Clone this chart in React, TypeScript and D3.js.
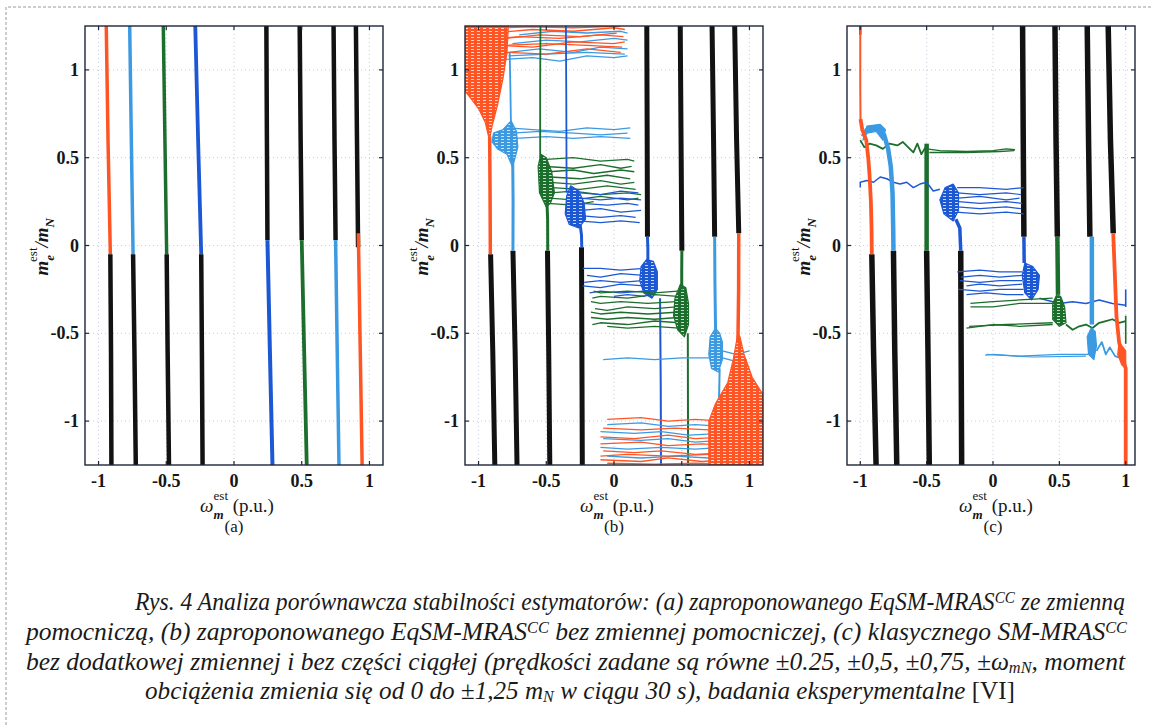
import React from 'react';
import * as d3 from 'd3';

type Pt = [number, number];

// axes
const tickValues = [-1, -0.5, 0, 0.5, 1];
const tickLabels = ['-1', '-0.5', '0', '0.5', '1'];
const yDomain: Pt = [-1.25, 1.25];
const xDomainA: Pt = [-1.1, 1.1];
const xDomainB: Pt = [-1.1, 1.1];
const xDomainC: Pt = [-1.1, 1.07];
const panelLabels = ['(a)', '(b)', '(c)'];

// ---------- (a) ----------
const aRedNeg: Pt[] = [[-0.943, 1.25], [-0.93, 0.6], [-0.913, -0.05]];
const aLBlueNeg: Pt[] = [[-0.77, 1.25], [-0.758, 0.6], [-0.745, -0.05]];
const aGreenNeg: Pt[] = [[-0.522, 1.25], [-0.51, 0.6], [-0.497, -0.05]];
const aBlueNeg: Pt[] = [[-0.286, 1.25], [-0.265, 0.6], [-0.242, -0.05]];
const aBlackNeg: Pt[][] = [
  [[-0.913, -0.05], [-0.908, -0.6], [-0.905, -1.25]],
  [[-0.745, -0.05], [-0.735, -0.6], [-0.725, -1.25]],
  [[-0.497, -0.05], [-0.49, -0.6], [-0.48, -1.25]],
  [[-0.242, -0.05], [-0.237, -0.6], [-0.232, -1.25]],
];
const aBlackPos: Pt[][] = [
  [[0.239, 1.25], [0.243, 0.6], [0.247, 0.03]],
  [[0.485, 1.25], [0.492, 0.6], [0.5, 0.03]],
  [[0.735, 1.25], [0.742, 0.6], [0.75, 0.03]],
  [[0.9, 1.25], [0.908, 0.6], [0.916, -0.01]],
];
const aBluePos: Pt[] = [[0.247, 0.03], [0.265, -0.6], [0.284, -1.25]];
const aGreenPos: Pt[] = [[0.5, 0.03], [0.518, -0.6], [0.537, -1.25]];
const aLBluePos: Pt[] = [[0.75, 0.03], [0.762, -0.6], [0.775, -1.25]];
const aRedPos: Pt[] = [[0.918, 0.07], [0.932, -0.6], [0.946, -1.25]];

// ---------- (b) ----------
const bBlack: Pt[][] = [
  [[-0.911, -0.05], [-0.895, -0.6], [-0.88, -1.25]],
  [[-0.746, -0.03], [-0.73, -0.6], [-0.716, -1.25]],
  [[-0.491, -0.03], [-0.482, -0.6], [-0.474, -1.25]],
  [[-0.24, -0.01], [-0.237, -0.6], [-0.234, -1.25]],
  [[0.242, 1.25], [0.245, 0.6], [0.247, 0.05]],
  [[0.489, 1.25], [0.495, 0.6], [0.501, -0.03]],
  [[0.724, 1.25], [0.735, 0.6], [0.743, 0.05]],
  [[0.891, 1.25], [0.905, 0.6], [0.921, 0.07]],
];
const bRedNegStem: Pt[] = [[-0.913, -0.05], [-0.915, 0.3], [-0.918, 0.62]];
const bRedNegFunnel: Pt[] = [[-0.92, 0.6], [-0.95, 0.7], [-1.0, 0.78], [-1.06, 0.84], [-1.1, 0.88], [-1.1, 1.25], [-0.78, 1.25], [-0.79, 1.1], [-0.82, 0.95], [-0.86, 0.8], [-0.9, 0.68]];
const bRedTop: Pt[][] = [
  [[-1.1, 1.2], [-0.9, 1.21], [-0.6, 1.23], [-0.3, 1.22], [0, 1.24], [0.08, 1.23]],
  [[-1.1, 1.16], [-0.95, 1.17], [-0.7, 1.19], [-0.4, 1.18], [-0.1, 1.2], [0.07, 1.19]],
  [[-1.1, 1.12], [-0.85, 1.14], [-0.6, 1.13], [-0.3, 1.16], [0, 1.15], [0.08, 1.16]],
  [[-1.05, 1.08], [-0.8, 1.1], [-0.5, 1.09], [-0.2, 1.12], [0.05, 1.1]],
  [[-0.85, 1.24], [-0.6, 1.245], [-0.3, 1.24], [0.05, 1.25]],
  [[-0.8, 1.18], [-0.55, 1.2], [-0.25, 1.19], [0.02, 1.21]],
  [[-0.8, 1.14], [-0.5, 1.15], [-0.2, 1.14], [0.06, 1.13]],
];
const bLBlueTop: Pt[][] = [
  [[-0.8, 1.06], [-0.6, 1.07], [-0.4, 1.05], [-0.2, 1.08], [0, 1.07], [0.1, 1.08]],
  [[-0.78, 1.1], [-0.55, 1.12], [-0.3, 1.1], [-0.1, 1.13], [0.1, 1.12]],
  [[-0.75, 1.15], [-0.5, 1.17], [-0.25, 1.16], [0, 1.18], [0.1, 1.17]],
  [[-0.7, 1.2], [-0.45, 1.22], [-0.2, 1.21], [0.05, 1.22], [0.1, 1.21]],
  [[-0.78, 1.08], [-0.5, 1.09], [-0.2, 1.1], [0.08, 1.09]],
];
const bLBlueNegStem: Pt[] = [[-0.746, -0.03], [-0.745, 0.25], [-0.748, 0.5]];
const bLBlueNegBlob: Pt[] = [[-0.75, 0.45], [-0.79, 0.52], [-0.86, 0.55], [-0.9, 0.59], [-0.89, 0.64], [-0.82, 0.66], [-0.76, 0.71], [-0.72, 0.65], [-0.71, 0.56], [-0.73, 0.5]];
const bLBlueNegUp: Pt[] = [[-0.76, 0.65], [-0.765, 0.9], [-0.77, 1.1]];
const bLBlueNegLines: Pt[][] = [
  [[-0.78, 0.67], [-0.6, 0.66], [-0.4, 0.65], [-0.2, 0.67], [0, 0.66], [0.12, 0.67]],
  [[-0.75, 0.64], [-0.55, 0.65], [-0.3, 0.64], [-0.1, 0.63], [0.1, 0.64]],
  [[-0.73, 0.61], [-0.5, 0.62], [-0.3, 0.61], [-0.1, 0.62], [0.12, 0.61]],
];
const bGreenNegStem: Pt[] = [[-0.489, -0.03], [-0.49, 0.15], [-0.495, 0.25]];
const bGreenNegBlob: Pt[] = [[-0.5, 0.22], [-0.55, 0.3], [-0.56, 0.45], [-0.54, 0.52], [-0.5, 0.5], [-0.46, 0.42], [-0.44, 0.3], [-0.47, 0.24]];
const bGreenNegUp: Pt[] = [[-0.545, 0.5], [-0.545, 0.9], [-0.543, 1.25]];
const bGreenNegLines: Pt[][] = [
  [[-0.5, 0.49], [-0.3, 0.5], [-0.1, 0.48], [0.1, 0.49], [0.15, 0.48]],
  [[-0.5, 0.45], [-0.3, 0.44], [-0.1, 0.46], [0.05, 0.44], [0.13, 0.45]],
  [[-0.48, 0.42], [-0.3, 0.43], [-0.15, 0.41], [0.05, 0.43], [0.15, 0.42]],
  [[-0.47, 0.39], [-0.25, 0.38], [-0.05, 0.4], [0.12, 0.38]],
  [[-0.47, 0.36], [-0.3, 0.35], [-0.1, 0.37], [0.05, 0.35], [0.15, 0.36]],
  [[-0.46, 0.33], [-0.25, 0.32], [-0.05, 0.34], [0.16, 0.32]],
  [[-0.47, 0.3], [-0.3, 0.31], [-0.1, 0.29], [0.1, 0.3], [0.2, 0.29]],
  [[-0.48, 0.27], [-0.3, 0.26], [-0.1, 0.28], [0.1, 0.26], [0.18, 0.27]],
  [[-0.49, 0.24], [-0.3, 0.23], [-0.15, 0.25]],
];
const bBlueNegStem: Pt[] = [[-0.238, -0.01], [-0.24, 0.06], [-0.25, 0.12]];
const bBlueNegBlob: Pt[] = [[-0.26, 0.1], [-0.33, 0.12], [-0.36, 0.18], [-0.35, 0.28], [-0.32, 0.34], [-0.26, 0.31], [-0.22, 0.24], [-0.21, 0.15]];
const bBlueNegUp: Pt[] = [[-0.35, 0.3], [-0.352, 0.8], [-0.355, 1.25]];
const bBlueNegLines: Pt[][] = [
  [[-0.25, 0.3], [-0.1, 0.29], [0.05, 0.31], [0.18, 0.3]],
  [[-0.25, 0.27], [-0.1, 0.26], [0.05, 0.27], [0.2, 0.26]],
  [[-0.24, 0.24], [-0.05, 0.23], [0.1, 0.24], [0.18, 0.23]],
  [[-0.24, 0.2], [-0.1, 0.21], [0.05, 0.19], [0.2, 0.2]],
  [[-0.25, 0.17], [-0.1, 0.16], [0.05, 0.17], [0.16, 0.16]],
  [[-0.26, 0.14], [-0.1, 0.13], [0.05, 0.14], [0.19, 0.13]],
];
const bBluePosStem: Pt[] = [[0.247, 0.05], [0.25, -0.02], [0.25, -0.1]];
const bBluePosBlob: Pt[] = [[0.24, -0.08], [0.2, -0.12], [0.19, -0.2], [0.22, -0.27], [0.28, -0.3], [0.32, -0.25], [0.32, -0.15], [0.29, -0.09]];
const bBluePosDown: Pt[] = [[0.34, -0.3], [0.345, -0.8], [0.347, -1.25]];
const bBluePosLines: Pt[][] = [
  [[0.22, -0.13], [0.05, -0.14], [-0.1, -0.13], [-0.23, -0.13]],
  [[0.22, -0.17], [0.05, -0.16], [-0.1, -0.18], [-0.2, -0.17]],
  [[0.21, -0.2], [0.05, -0.21], [-0.1, -0.2], [-0.22, -0.21]],
  [[0.22, -0.23], [0.05, -0.22], [-0.1, -0.24], [-0.23, -0.23]],
  [[0.22, -0.26], [0.05, -0.27], [-0.1, -0.26], [-0.18, -0.27]],
  [[0.23, -0.29], [0.1, -0.28], [0, -0.29]],
];
const bGreenPosStem: Pt[] = [[0.501, -0.03], [0.5, -0.15], [0.5, -0.25]];
const bGreenPosBlob: Pt[] = [[0.49, -0.22], [0.45, -0.3], [0.44, -0.4], [0.47, -0.48], [0.52, -0.52], [0.55, -0.45], [0.55, -0.33], [0.53, -0.24]];
const bGreenPosDown: Pt[] = [[0.545, -0.5], [0.546, -0.9], [0.547, -1.25]];
const bGreenPosLines: Pt[][] = [
  [[0.47, -0.26], [0.3, -0.27], [0.1, -0.26], [-0.1, -0.27], [-0.15, -0.26]],
  [[0.47, -0.29], [0.3, -0.28], [0.1, -0.3], [-0.1, -0.29], [-0.16, -0.3]],
  [[0.46, -0.32], [0.25, -0.33], [0.05, -0.32], [-0.1, -0.33], [-0.17, -0.32]],
  [[0.46, -0.35], [0.3, -0.36], [0.1, -0.35], [-0.05, -0.37], [-0.14, -0.36]],
  [[0.46, -0.38], [0.25, -0.39], [0.05, -0.38], [-0.1, -0.39], [-0.17, -0.38]],
  [[0.47, -0.41], [0.3, -0.42], [0.1, -0.41], [-0.05, -0.42], [-0.17, -0.41]],
  [[0.48, -0.44], [0.3, -0.43], [0.1, -0.45], [-0.1, -0.44], [-0.16, -0.45]],
  [[0.48, -0.47], [0.3, -0.46], [0.1, -0.47], [-0.05, -0.46]],
];
const bLBluePosStem: Pt[] = [[0.743, 0.05], [0.745, -0.2], [0.75, -0.5]];
const bLBluePosBlob: Pt[] = [[0.75, -0.47], [0.71, -0.52], [0.7, -0.62], [0.72, -0.7], [0.77, -0.72], [0.8, -0.65], [0.8, -0.55], [0.78, -0.5]];
const bLBluePosDown: Pt[] = [[0.78, -0.7], [0.775, -0.9], [0.77, -1.04]];
const bLBluePosLines: Pt[][] = [
  [[0.72, -0.64], [0.5, -0.64], [0.3, -0.65], [0.1, -0.64], [-0.08, -0.65]],
  [[0.8, -0.6], [0.9, -0.62], [1.0, -0.6]],
  [[0.8, -0.64], [0.9, -0.66], [0.98, -0.65]],
  [[-0.05, -1.02], [0.2, -1.01], [0.4, -1.03], [0.6, -1.02], [0.8, -1.03]],
  [[-0.1, -1.06], [0.15, -1.07], [0.35, -1.06], [0.55, -1.08], [0.8, -1.07]],
  [[-0.08, -1.1], [0.2, -1.11], [0.4, -1.1], [0.6, -1.12], [0.78, -1.11]],
  [[-0.1, -1.15], [0.1, -1.16], [0.35, -1.15], [0.6, -1.16], [0.8, -1.15]],
  [[-0.05, -1.2], [0.2, -1.21], [0.45, -1.2], [0.7, -1.21]],
];
const bRedPosStem: Pt[] = [[0.921, 0.07], [0.92, -0.25], [0.915, -0.55]];
const bRedPosFunnel: Pt[] = [[0.915, -0.5], [0.88, -0.65], [0.84, -0.78], [0.75, -0.9], [0.7, -1.0], [0.7, -1.25], [1.1, -1.25], [1.1, -0.85], [1.02, -0.75], [0.96, -0.62], [0.93, -0.52]];
const bRedPosLines: Pt[][] = [
  [[-0.05, -0.99], [0.2, -0.98], [0.4, -1.0], [0.6, -0.99], [0.8, -1.0]],
  [[-0.08, -1.04], [0.2, -1.05], [0.45, -1.04], [0.7, -1.05]],
  [[-0.1, -1.09], [0.15, -1.1], [0.4, -1.08], [0.6, -1.1], [0.85, -1.09]],
  [[-0.1, -1.13], [0.2, -1.12], [0.4, -1.14], [0.65, -1.13], [0.85, -1.14]],
  [[-0.08, -1.17], [0.15, -1.18], [0.35, -1.17], [0.6, -1.19], [0.85, -1.18]],
  [[-0.1, -1.2], [0.1, -1.19], [0.4, -1.2], [0.7, -1.19]],
  [[-0.1, -1.22], [0.2, -1.23], [0.4, -1.21], [0.65, -1.23], [0.85, -1.22]],
  [[-0.05, -1.24], [0.3, -1.245], [0.6, -1.24], [0.85, -1.245]],
];

// ---------- (c) ----------
const cBlack: Pt[][] = [
  [[-0.913, -0.05], [-0.9, -0.6], [-0.881, -1.25]],
  [[-0.75, -0.03], [-0.74, -0.6], [-0.725, -1.25]],
  [[-0.5, -0.03], [-0.49, -0.6], [-0.48, -1.25]],
  [[-0.243, -0.03], [-0.24, -0.6], [-0.236, -1.25]],
  [[0.223, 1.25], [0.228, 0.6], [0.233, 0.05]],
  [[0.467, 1.25], [0.475, 0.6], [0.485, 0.05]],
  [[0.71, 1.25], [0.72, 0.6], [0.73, 0.05]],
  [[0.868, 1.25], [0.885, 0.6], [0.906, 0.07]],
];
const cRedNegTop: Pt[] = [[-1, 1.25], [-1, 0.9], [-0.998, 0.7]];
const cRedNeg: Pt[] = [[-0.998, 0.72], [-0.985, 0.66], [-0.955, 0.6], [-0.94, 0.5], [-0.93, 0.4], [-0.92, 0.25], [-0.915, 0.1], [-0.913, -0.05]];
const cGreenNegTop: Pt[] = [[-1, 1.25], [-1, 1.2]];
const cLBlueNeg: Pt[] = [[-0.98, 0.62], [-0.95, 0.66], [-0.9, 0.67], [-0.85, 0.66], [-0.82, 0.63], [-0.79, 0.55], [-0.77, 0.45], [-0.757, 0.3], [-0.752, 0.1], [-0.75, -0.03]];
const cLBlueNegBlob: Pt[] = [[-0.98, 0.6], [-0.95, 0.64], [-0.88, 0.65], [-0.83, 0.6], [-0.81, 0.66], [-0.85, 0.69], [-0.95, 0.68]];
const cGreenNegWiggle: Pt[] = [[-1, 0.6], [-0.97, 0.56], [-0.93, 0.58], [-0.88, 0.57], [-0.83, 0.55], [-0.78, 0.58], [-0.72, 0.57], [-0.68, 0.59], [-0.64, 0.56], [-0.6, 0.53], [-0.57, 0.58], [-0.54, 0.52], [-0.5, 0.57]];
const cGreenNegStem: Pt[] = [[-0.5, 0.58], [-0.5, 0.3], [-0.5, -0.03]];
const cGreenNegLines: Pt[][] = [
  [[-0.5, 0.55], [-0.4, 0.54], [-0.2, 0.535], [0, 0.54], [0.1, 0.55], [0.166, 0.545]],
  [[-0.48, 0.53], [-0.2, 0.53], [0.05, 0.535], [0.16, 0.54]],
];
const cBlueNegWiggle: Pt[] = [[-1, 0.33], [-1, 0.36], [-0.95, 0.37], [-0.9, 0.36], [-0.85, 0.39], [-0.8, 0.38], [-0.75, 0.36], [-0.7, 0.35], [-0.65, 0.36], [-0.6, 0.33], [-0.55, 0.35], [-0.5, 0.36], [-0.45, 0.31], [-0.4, 0.32]];
const cBlueNegBlob: Pt[] = [[-0.3, 0.14], [-0.37, 0.18], [-0.4, 0.26], [-0.36, 0.33], [-0.3, 0.35], [-0.26, 0.3], [-0.26, 0.2]];
const cBlueNegStem: Pt[] = [[-0.28, 0.15], [-0.25, 0.1], [-0.243, -0.03]];
const cBlueNegLines: Pt[][] = [
  [[-0.27, 0.33], [-0.1, 0.33], [0.1, 0.32], [0.23, 0.33]],
  [[-0.27, 0.3], [-0.1, 0.29], [0.1, 0.3], [0.21, 0.29]],
  [[-0.26, 0.27], [-0.1, 0.28], [0.1, 0.26], [0.2, 0.27]],
  [[-0.26, 0.25], [-0.1, 0.24], [0.1, 0.25], [0.22, 0.24]],
  [[-0.27, 0.22], [-0.1, 0.21], [0.1, 0.22], [0.21, 0.21]],
  [[-0.28, 0.19], [-0.1, 0.18], [0.1, 0.19], [0.23, 0.18]],
];
const cBluePosStem: Pt[] = [[0.233, 0.05], [0.235, -0.1]];
const cBluePosBlob: Pt[] = [[0.24, -0.1], [0.22, -0.17], [0.24, -0.27], [0.29, -0.31], [0.34, -0.25], [0.35, -0.17], [0.3, -0.12]];
const cBluePosLeft: Pt[][] = [
  [[0.22, -0.15], [0.05, -0.15], [-0.1, -0.14], [-0.27, -0.15]],
  [[0.22, -0.17], [0.05, -0.18], [-0.1, -0.17], [-0.24, -0.18]],
  [[0.22, -0.2], [0.05, -0.2], [-0.1, -0.21], [-0.25, -0.2]],
  [[0.22, -0.22], [0.05, -0.23], [-0.1, -0.22], [-0.2, -0.23]],
  [[0.23, -0.25], [0.05, -0.25], [-0.1, -0.26], [-0.26, -0.25]],
  [[0.23, -0.28], [0.1, -0.28], [-0.05, -0.27], [-0.2, -0.28]],
];
const cBluePosRight: Pt[] = [[0.35, -0.3], [0.5, -0.33], [0.6, -0.32], [0.7, -0.33], [0.8, -0.31], [0.9, -0.33], [1.0, -0.34]];
const cBluePosEnd: Pt[] = [[1, -0.25], [1, -0.35]];
const cGreenPosStem: Pt[] = [[0.485, 0.05], [0.49, -0.28]];
const cGreenPosBlob: Pt[] = [[0.48, -0.28], [0.45, -0.33], [0.45, -0.42], [0.5, -0.46], [0.55, -0.44], [0.54, -0.35], [0.51, -0.29]];
const cGreenPosLeft: Pt[][] = [
  [[0.45, -0.3], [0.2, -0.31], [0, -0.32], [-0.17, -0.33]],
  [[0.45, -0.33], [0.2, -0.33], [0, -0.35], [-0.17, -0.35]],
  [[0.45, -0.45], [0.2, -0.46], [0, -0.45], [-0.2, -0.47]],
  [[0.45, -0.44], [0.1, -0.45], [-0.18, -0.46]],
];
const cGreenPosRight: Pt[] = [[0.55, -0.45], [0.6, -0.48], [0.65, -0.46], [0.7, -0.45], [0.75, -0.47], [0.8, -0.44], [0.85, -0.43], [0.9, -0.42], [0.95, -0.44], [1.0, -0.43]];
const cGreenPosEnd: Pt[] = [[1, -0.4], [1, -0.56]];
const cLBluePosStem: Pt[] = [[0.745, 0.05], [0.745, -0.45]];
const cLBluePosBlob: Pt[] = [[0.74, -0.47], [0.71, -0.52], [0.72, -0.62], [0.76, -0.65], [0.78, -0.57], [0.77, -0.49]];
const cLBluePosLeft: Pt[][] = [
  [[0.72, -0.62], [0.5, -0.62], [0.2, -0.63], [0, -0.62], [-0.06, -0.625]],
  [[0.7, -0.63], [0.3, -0.635], [-0.05, -0.62]],
];
const cLBluePosRight: Pt[] = [[0.78, -0.6], [0.82, -0.55], [0.85, -0.62], [0.88, -0.58], [0.92, -0.63], [0.96, -0.64], [1.0, -0.62]];
const cRedPos: Pt[] = [[0.906, 0.07], [0.92, -0.2], [0.93, -0.4], [0.95, -0.55], [0.98, -0.65], [1.0, -0.7], [1.0, -1.25]];
const cRedPosBlob: Pt[] = [[0.95, -0.55], [0.94, -0.62], [0.97, -0.68], [1.0, -0.7], [1.0, -0.6]];

// caption
const captionLines = [
  [['i', 'Rys. 4  Analiza porównawcza stabilności estymatorów: (a) zaproponowanego EqSM-MRAS'], ['sup', 'CC'], ['i', ' ze zmienną']],
  [['i', 'pomocniczą, (b) zaproponowanego EqSM-MRAS'], ['sup', 'CC'], ['i', ' bez zmiennej pomocniczej, (c) klasycznego SM-MRAS'], ['sup', 'CC']],
  [['i', 'bez dodatkowej zmiennej i bez części ciągłej (prędkości zadane są równe ±0.25, ±0,5, ±0,75, ±ω'], ['sub', 'mN'], ['i', ', moment']],
  [['i', 'obciążenia zmienia się od 0 do ±1,25 m'], ['sub', 'N'], ['i', ' w ciągu 30 s), badania eksperymentalne '], ['n', '[VI]']],
];

const RED = '#ff5524';
const LBLUE = '#3b9ae2';
const GREEN = '#1c6e2c';
const BLUE = '#1d58d4';
const BLACK = '#121212';

type Layer = { d: Pt[]; c: string; w: number; fill?: string };
const L = (d: Pt[], c: string, w: number): Layer => ({ d, c, w });
const F = (d: Pt[], c: string, fill?: string): Layer => ({ d, c, w: 1, fill: fill || c });
const many = (ds: Pt[][], c: string, w: number) => ds.map(d => L(d, c, w));

const layersA: Layer[] = [
  L(aRedNeg, RED, 3.5), L(aLBlueNeg, LBLUE, 3.5), L(aGreenNeg, GREEN, 3.5), L(aBlueNeg, BLUE, 3.8),
  ...many(aBlackNeg, BLACK, 4.5), ...many(aBlackPos, BLACK, 4.5),
  L(aBluePos, BLUE, 4), L(aGreenPos, GREEN, 3.8), L(aLBluePos, LBLUE, 3.5), L(aRedPos, RED, 3.5),
];

const layersB: Layer[] = [
  ...many(bBlack, BLACK, 5),
  ...many(bLBlueTop, LBLUE, 1.3), ...many(bRedTop, RED, 1.3),
  F(bRedNegFunnel, RED, 'url(#hatchRed)'), L(bRedNegStem, RED, 3.5),
  F(bLBlueNegBlob, LBLUE, 'url(#hatchLBlue)'), L(bLBlueNegStem, LBLUE, 3), L(bLBlueNegUp, LBLUE, 1.8), ...many(bLBlueNegLines, LBLUE, 1.3),
  ...many(bGreenNegLines, GREEN, 1.3), F(bGreenNegBlob, GREEN, 'url(#hatchGreen)'), L(bGreenNegStem, GREEN, 3), L(bGreenNegUp, GREEN, 1.8),
  ...many(bBlueNegLines, BLUE, 1.3), F(bBlueNegBlob, BLUE, 'url(#hatchBlue)'), L(bBlueNegStem, BLUE, 3), L(bBlueNegUp, BLUE, 1.8),
  ...many(bBluePosLines, BLUE, 1.3), F(bBluePosBlob, BLUE, 'url(#hatchBlue)'), L(bBluePosStem, BLUE, 3), L(bBluePosDown, BLUE, 2),
  ...many(bGreenPosLines, GREEN, 1.3), F(bGreenPosBlob, GREEN, 'url(#hatchGreen)'), L(bGreenPosStem, GREEN, 3), L(bGreenPosDown, GREEN, 2),
  ...many(bLBluePosLines, LBLUE, 1.3), F(bLBluePosBlob, LBLUE, 'url(#hatchLBlue)'), L(bLBluePosStem, LBLUE, 3), L(bLBluePosDown, LBLUE, 2),
  ...many(bRedPosLines, RED, 1.3), F(bRedPosFunnel, RED, 'url(#hatchRed)'), L(bRedPosStem, RED, 3.5),
];

const layersC: Layer[] = [
  ...many(cBlack, BLACK, 5.5),
  L(cGreenNegWiggle, GREEN, 1.8), ...many(cGreenNegLines, GREEN, 1.4), L(cGreenNegStem, GREEN, 4.5), L(cGreenNegTop, GREEN, 2.5),
  L(cBlueNegWiggle, BLUE, 1.5), ...many(cBlueNegLines, BLUE, 1.2), F(cBlueNegBlob, BLUE, 'url(#hatchBlue)'), L(cBlueNegStem, BLUE, 3.5),
  F(cLBlueNegBlob, LBLUE), L(cLBlueNeg, LBLUE, 4.5),
  L(cRedNegTop, RED, 2), L(cRedNeg, RED, 3.8),
  ...many(cBluePosLeft, BLUE, 1.2), L(cBluePosRight, BLUE, 1.5), L(cBluePosEnd, BLUE, 1.6), F(cBluePosBlob, BLUE, 'url(#hatchBlue)'), L(cBluePosStem, BLUE, 3.5),
  ...many(cGreenPosLeft, GREEN, 1.3), L(cGreenPosRight, GREEN, 1.8), L(cGreenPosEnd, GREEN, 1.6), F(cGreenPosBlob, GREEN, 'url(#hatchGreen)'), L(cGreenPosStem, GREEN, 4.5),
  ...many(cLBluePosLeft, LBLUE, 1.2), L(cLBluePosRight, LBLUE, 1.8), F(cLBluePosBlob, LBLUE), L(cLBluePosStem, LBLUE, 4.5),
  F(cRedPosBlob, RED), L(cRedPos, RED, 3.8),
];

const PLOT_TOP = 26;
const PLOT_H = 439;
const panels = [
  { left: 85, width: 298, xDomain: xDomainA, layers: layersA },
  { left: 465, width: 298, xDomain: xDomainB, layers: layersB },
  { left: 847, width: 288, xDomain: xDomainC, layers: layersC },
];

const SERIF = '"Liberation Serif", "Times New Roman", Times, serif';
const hatches = [['hatchRed', RED], ['hatchLBlue', LBLUE], ['hatchGreen', GREEN], ['hatchBlue', BLUE]];

function Panel({ idx, left, width, xDomain, layers }: any) {
  const x = d3.scaleLinear().domain(xDomain).range([0, width]);
  const y = d3.scaleLinear().domain(yDomain).range([PLOT_H, 0]);
  const line = d3.line<Pt>().x(d => x(d[0])).y(d => y(d[1]));
  const area = d3.line<Pt>().x(d => x(d[0])).y(d => y(d[1])).curve(d3.curveLinearClosed);
  const clipId = `clip${idx}`;
  const cx = x(0);
  return (
    <g transform={`translate(${left},${PLOT_TOP})`}>
      <defs>
        <clipPath id={clipId}><rect width={width} height={PLOT_H} /></clipPath>
      </defs>
      {/* grid */}
      {tickValues.map(t => (
        <g key={'g' + t} stroke="#c9ccd6" strokeWidth={1} strokeDasharray="1,3">
          <line x1={x(t)} x2={x(t)} y1={0} y2={PLOT_H} />
          <line x1={0} x2={width} y1={y(t)} y2={y(t)} />
        </g>
      ))}
      <g clipPath={`url(#${clipId})`}>
        {layers.map((l: Layer, i: number) => l.fill
          ? <path key={i} d={area(l.d) || ''} fill={l.fill} stroke={l.c} strokeWidth={1.2} strokeLinejoin="round" />
          : <path key={i} d={line(l.d) || ''} fill="none" stroke={l.c} strokeWidth={l.w} strokeLinejoin="round" />)}
      </g>
      {/* box + ticks */}
      <rect width={width} height={PLOT_H} fill="none" stroke="#1d2638" strokeWidth={1.4} />
      {tickValues.map(t => (
        <g key={'t' + t} stroke="#1d2638" strokeWidth={1.2}>
          <line x1={x(t)} x2={x(t)} y1={PLOT_H} y2={PLOT_H - 4} />
          <line x1={x(t)} x2={x(t)} y1={0} y2={4} />
          <line x1={0} x2={4} y1={y(t)} y2={y(t)} />
          <line x1={width} x2={width - 4} y1={y(t)} y2={y(t)} />
        </g>
      ))}
      <g fontFamily={SERIF} fontWeight="bold" fontSize={18} fill="#161616">
        {tickValues.map((t, i) => (
          <text key={'xl' + t} x={x(t)} y={PLOT_H + 22} textAnchor="middle">{tickLabels[i]}</text>
        ))}
        {tickValues.map((t, i) => (
          <text key={'yl' + t} x={-6} y={y(t) + 6} textAnchor="end">{tickLabels[i]}</text>
        ))}
      </g>
      {/* x label */}
      <text x={cx - 34} y={PLOT_H + 47} fontFamily={SERIF} fontSize={19} fill="#161616">
        <tspan fontStyle="italic">ω</tspan>
        <tspan fontStyle="italic" fontWeight="bold" fontSize={13} dy={7}>m</tspan>
        <tspan fontSize={13} dx={-10} dy={-19}>est</tspan>
        <tspan dy={12}> (p.u.)</tspan>
      </text>
      <text x={cx} y={PLOT_H + 67} fontFamily={SERIF} fontSize={17} textAnchor="middle" fill="#161616">{panelLabels[idx]}</text>
      {/* y label */}
      <text transform={`translate(${-37},${PLOT_H / 2 + 30}) rotate(-90)`} fontFamily={SERIF} fontSize={19} fill="#161616">
        <tspan fontStyle="italic" fontWeight="bold">m</tspan>
        <tspan fontStyle="italic" fontWeight="bold" fontSize={13} dy={6}>e</tspan>
        <tspan fontSize={13} dx={-7} dy={-17}>est</tspan>
        <tspan fontStyle="italic" dy={11}>/</tspan>
        <tspan fontStyle="italic" fontWeight="bold">m</tspan>
        <tspan fontStyle="italic" fontWeight="bold" fontSize={13} dy={6}>N</tspan>
      </text>
    </g>
  );
}

const capX = [135, 26, 26, 145];
const capLen = [990, 1101, 1099, 870];
const capY = [610, 640, 670, 699];

export default function App() {
  return (
    <svg width={1153} height={725} style={{ position: 'absolute', left: 0, top: 0, background: '#fff' }}>
      <defs>
        {hatches.map(([id, c]) => (
          <pattern key={id} id={id} width={6} height={3} patternUnits="userSpaceOnUse">
            <rect width={6} height={3} fill={c} />
            <rect y={2} width={3} height={1} fill="#fff" fillOpacity={0.75} />
          </pattern>
        ))}
      </defs>
      <rect width={1153} height={725} fill="#fff" />
      <path d="M6,725 V7 H1153" fill="none" stroke="#9a9a9a" strokeWidth={1} strokeDasharray="3,2" />
      {panels.map((p, i) => <Panel key={i} idx={i} {...p} />)}
      <g fontFamily={SERIF} fontSize={25} fill="#1a1a1a">
        {captionLines.map((ln, i) => (
          <text key={i} x={capX[i]} y={capY[i]} textLength={capLen[i]} lengthAdjust="spacingAndGlyphs">
            {ln.map(([k, s], j) => (
              <tspan key={j}
                fontStyle={k === 'n' ? 'normal' : 'italic'}
                fontSize={k === 'sup' || k === 'sub' ? 16 : undefined}
                baselineShift={k === 'sup' ? '45%' : k === 'sub' ? '-20%' : undefined}>{s}</tspan>
            ))}
          </text>
        ))}
      </g>
    </svg>
  );
}
